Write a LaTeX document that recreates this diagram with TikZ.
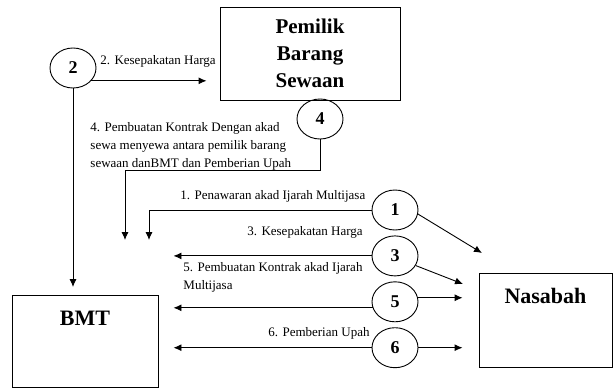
\documentclass[tikz,border=0pt]{standalone}
\usepackage{fontspec}
\setmainfont{Liberation Serif}
\usetikzlibrary{arrows.meta, positioning, shapes.geometric}

\begin{document}
\begin{tikzpicture}[x=1pt, y=-1pt, line width=0.9pt, >={Latex[length=8pt, width=7pt]},
    nomor/.style={draw, ellipse, minimum width=46pt, minimum height=40pt, inner sep=0pt, font=\fontsize{18}{20}\selectfont\bfseries},
    ket/.style={anchor=west, inner sep=0pt, align=left, font=\fontsize{13}{18}\selectfont},
    kotak/.style={draw, rectangle, inner sep=0pt, font=\fontsize{22}{27}\selectfont\bfseries}]
    \useasboundingbox (0,0) rectangle (615,389);

    % Kotak pelaku
    \node (pemilik) [kotak, minimum width=180pt, minimum height=93pt, align=center, font=\fontsize{21}{27}\selectfont\bfseries] at (310,53.5) {Pemilik\\Barang\\Sewaan};
    \node (bmt) [kotak, anchor=north, minimum width=146pt, text height=30pt, text depth=62pt] at (85,295) {BMT};
    \node (nasabah) [kotak, anchor=north, minimum width=133pt, text height=30pt, text depth=64pt] at (545.5,273) {Nasabah};

    % Lingkaran nomor
    \node (c2) [nomor] at (73,68) {2};
    \node (c4) [nomor] at (320,119) {4};
    \node (c1) [nomor] at (395,210) {1};
    \node (c3) [nomor, below=5pt of c1] {3};
    \node (c5) [nomor, below=5pt of c3] {5};
    \node (c6) [nomor, below=5pt of c5] {6};

    % Keterangan
    \node (k2) [ket] at (100,61) {2. Kesepakatan Harga};
    \node (k4) [ket] at (90,146) {4. Pembuatan Kontrak Dengan akad\\sewa menyewa antara pemilik barang\\sewaan danBMT dan Pemberian Upah};
    \node (k1) [ket] at (180,196) {1. Penawaran akad Ijarah Multijasa};
    \node (k3) [ket] at (247,232) {3. Kesepakatan Harga};
    \node (k5) [ket] at (183,277) {5. Pembuatan Kontrak akad Ijarah\\Multijasa};
    \node (k6) [ket] at (268,333) {6. Pemberian Upah};

    % Titik bantu
    \coordinate (belok4) at (125,170);
    \coordinate (ujung4) at (125,240);
    \coordinate (ujung1) at (149,240);
    \coordinate (nas1) at (482,253);
    \coordinate (nas3) at (463,284);

    % Panah dari 2
    \draw[->, shorten >=13pt] (c2.-35) -- (c2.-35 -| pemilik.west);
    \draw[->, shorten >=8pt] (c2.south) -- (c2.south |- bmt.north);

    % Panah dari 4
    \draw[->] (c4.south) |- (belok4) -- (ujung4);

    % Panah ke BMT
    \draw[->] (c1.west) -| (ujung1);
    \draw[->, shorten >=15pt] (c3.west) -- (c3.west -| bmt.east);
    \draw[->, shorten >=15pt] (c5.195) -- (c5.195 -| bmt.east);
    \draw[->, shorten >=15pt] (c6.west) -- (c6.west -| bmt.east);

    % Panah ke Nasabah
    \draw[->] (c1.-10) -- (nas1);
    \draw[->] (c3.-25) -- (nas3);
    \draw[->, shorten >=16pt] (c5.10) -- (c5.10 -| nasabah.west);
    \draw[->, shorten >=16pt] (c6.east) -- (c6.east -| nasabah.west);
\end{tikzpicture}
\end{document}
